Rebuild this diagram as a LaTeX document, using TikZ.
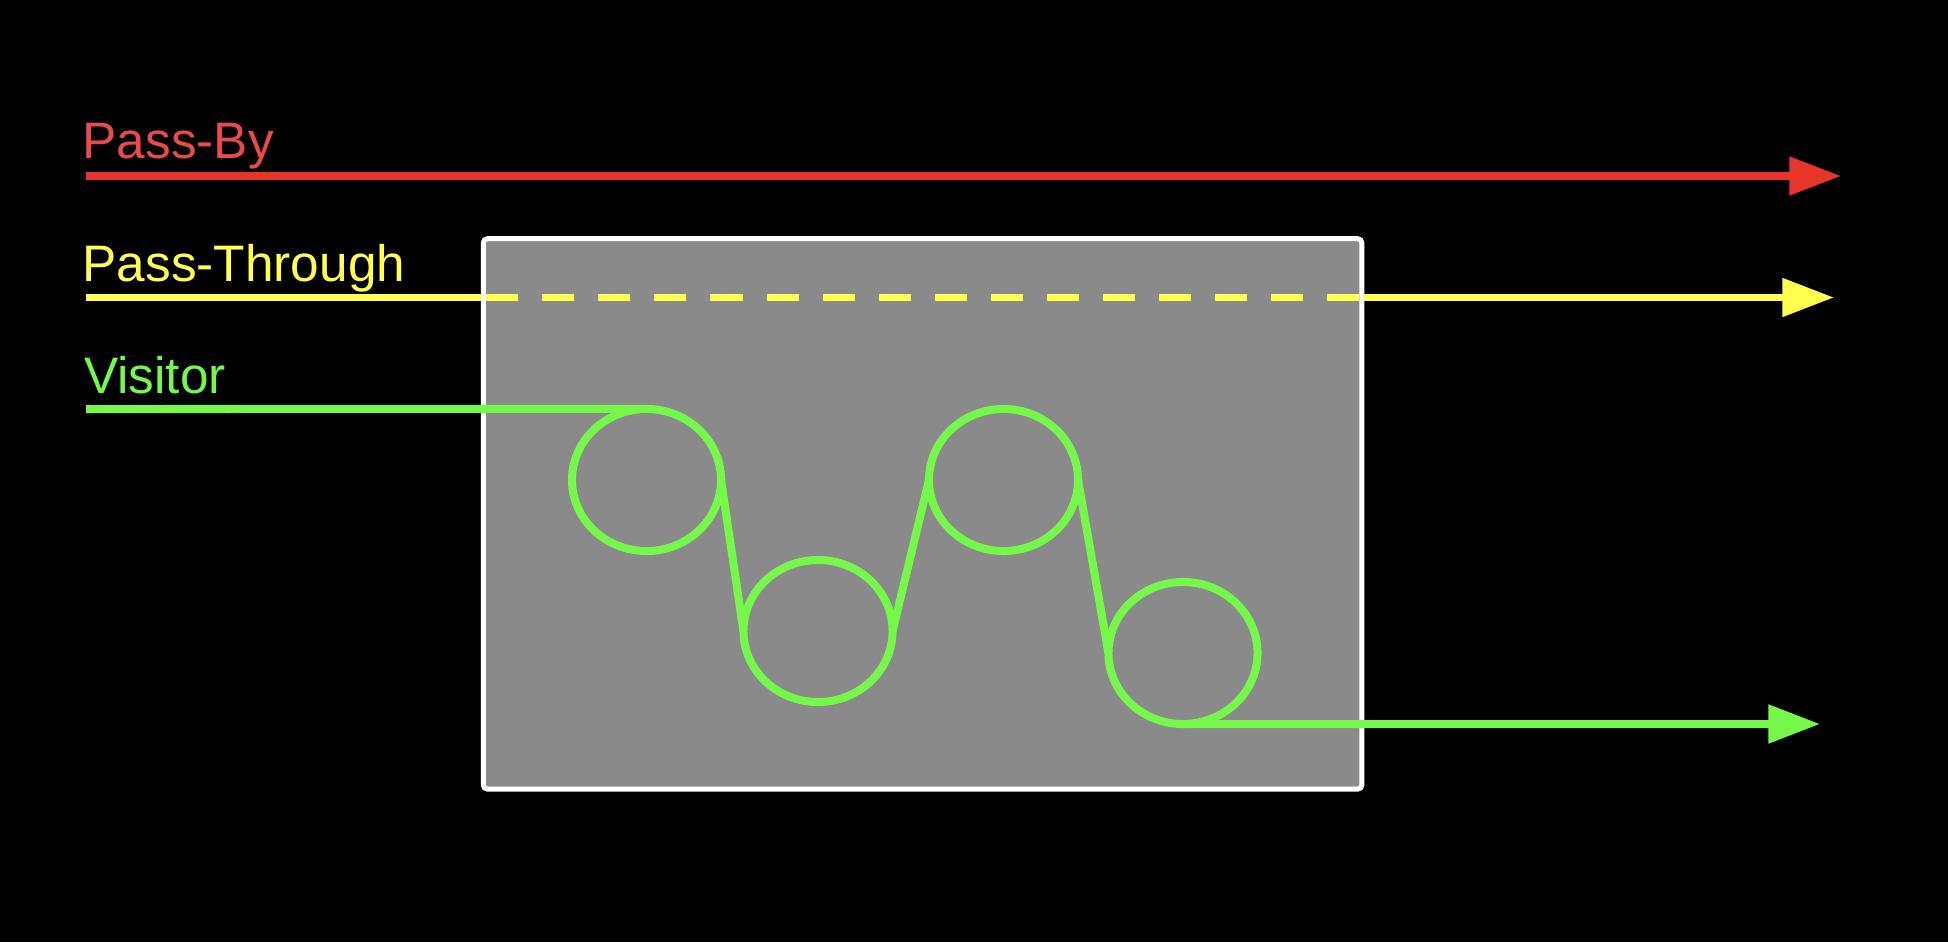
\documentclass[tikz,border=0pt]{standalone}
\usepackage{fontspec}
\setmainfont{Liberation Sans}
\usepackage{tikz}
\usetikzlibrary{arrows.meta,shapes.geometric,calc}

\definecolor{pbred}{HTML}{E8352A}
\definecolor{pbtext}{HTML}{E84B4B}
\definecolor{ptyellow}{HTML}{FFFF50}
\definecolor{visgreen}{HTML}{76F84A}
\definecolor{zonegray}{HTML}{8A8A8A}

\begin{document}
\begin{tikzpicture}[x=0.01cm, y=-0.01cm,
      lbl/.style={anchor=base west, inner sep=0, font=\fontsize{14.6pt}{17pt}\selectfont},
      path/.style={line width=0.075cm},
      tip/.style={-{Triangle[length=0.515cm,width=0.37cm]}},
      loop/.style={ellipse, draw=visgreen, line width=0.08cm, inner sep=0, outer sep=0,
        minimum width=1.49cm, minimum height=1.42cm},
      zone/.style={draw=white, fill=zonegray, line width=0.05cm, rounded corners=0.4mm,
        minimum width=8.78cm, minimum height=5.5cm, inner sep=0}
    ]
    \fill[black] (0,0) rectangle (1948,942);
    \useasboundingbox (0,0) rectangle (1948,942);

    \node[zone] (Z) at (922.6,513.9) {};

    \node[lbl,text=pbtext] (LB) at (82,158.3) {Pass-By};
    \node[lbl,text=ptyellow] (LT) at (82,281.7) {Pass-Through};
    \node[lbl,text=visgreen] (LV) at (83.5,393.3) {Visitor};

    \coordinate (B0) at (86,176);
    \coordinate (B1) at (1841,176);
    \coordinate (T0) at (86,297.5);
    \coordinate (T1) at (1834,297.5);
    \coordinate (V0) at (86,409);
    \coordinate (V1) at (1820,724);

    \draw[path,pbred,tip] (B0) -- (B1);

    \draw[path,ptyellow] (T0) -- (T0 -| Z.west);
    \draw[path,ptyellow,dash pattern=on 0.32cm off 0.24cm,shorten <=0.055cm,shorten >=0.055cm]
      (T0 -| Z.west) -- (T0 -| Z.east);
    \draw[path,ptyellow,tip] (T0 -| Z.east) -- (T1);

    \node[loop] (C1) at (646.5,480) {};
    \node[loop] (C2) at (818,631) {};
    \node[loop] (C3) at (1003.5,480) {};
    \node[loop] (C4) at (1183,653) {};

    \draw[path,visgreen,line width=0.08cm] (V0) -- (C1.north);
    \draw[path,visgreen,line width=0.08cm] (C1.east) -- (C2.west);
    \draw[path,visgreen,line width=0.08cm] (C2.east) -- (C3.west);
    \draw[path,visgreen,line width=0.08cm] (C3.east) -- (C4.west);
    \draw[path,visgreen,line width=0.08cm,tip] (C4.south) -- (V1);
  \end{tikzpicture}
\end{document}
